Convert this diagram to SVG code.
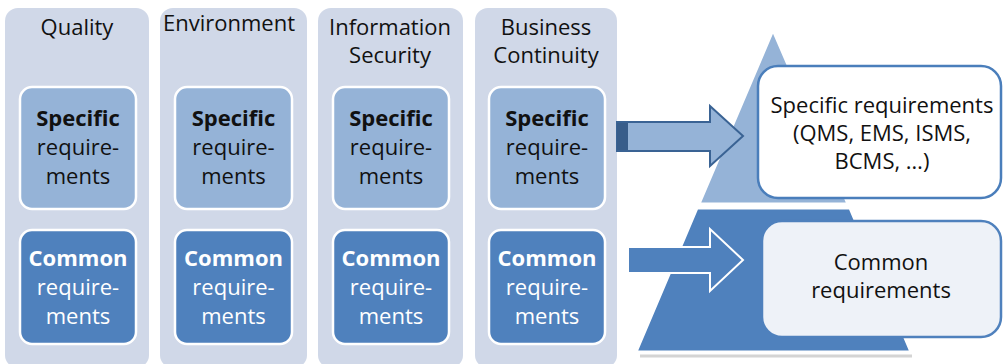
<svg xmlns="http://www.w3.org/2000/svg" width="1003" height="364" viewBox="0 0 1003 364">
<style>
.col{fill:#d0d8e8}
.spec{fill:#95b3d7;stroke:#fff;stroke-width:2.5}
.comm{fill:#4f81bd;stroke:#fff;stroke-width:2.5}
text{font-family:"Open Sans","Noto Sans","Liberation Sans",sans-serif;font-size:22px;text-anchor:middle}
.dk{fill:#111}
.wt{fill:#fff}
.b{font-weight:bold}
</style>
<rect width="1003" height="364" fill="#fff"/>
<g id="col-quality">
<rect class="col" x="5" y="8" width="144" height="360" rx="13"/>
<text class="dk" x="77" y="35">Quality</text>
<rect class="spec" x="20" y="87" width="116" height="122" rx="12"/>
<text class="dk b" x="78" y="126">Specific</text>
<text class="dk" x="78" y="155">require-</text>
<text class="dk" x="78" y="184">ments</text>
<rect class="comm" x="20" y="230" width="116" height="114" rx="12"/>
<text class="wt b" x="78" y="266">Common</text>
<text class="wt" x="78" y="295">require-</text>
<text class="wt" x="78" y="324">ments</text>
</g>
<g id="col-environment">
<rect class="col" x="160" y="8" width="147" height="360" rx="13"/>
<text class="dk" x="229" y="31">Environment</text>
<rect class="spec" x="175" y="87" width="117" height="122" rx="12"/>
<text class="dk b" x="233.5" y="126">Specific</text>
<text class="dk" x="233.5" y="155">require-</text>
<text class="dk" x="233.5" y="184">ments</text>
<rect class="comm" x="175" y="230" width="117" height="114" rx="12"/>
<text class="wt b" x="233.5" y="266">Common</text>
<text class="wt" x="233.5" y="295">require-</text>
<text class="wt" x="233.5" y="324">ments</text>
</g>
<g id="col-infosec">
<rect class="col" x="318" y="8" width="145" height="360" rx="13"/>
<text class="dk" x="390" y="35">Information</text>
<text class="dk" x="390" y="63">Security</text>
<rect class="spec" x="333" y="87" width="116" height="122" rx="12"/>
<text class="dk b" x="391" y="126">Specific</text>
<text class="dk" x="391" y="155">require-</text>
<text class="dk" x="391" y="184">ments</text>
<rect class="comm" x="333" y="230" width="116" height="114" rx="12"/>
<text class="wt b" x="391" y="266">Common</text>
<text class="wt" x="391" y="295">require-</text>
<text class="wt" x="391" y="324">ments</text>
</g>
<g id="col-business">
<rect class="col" x="475" y="8" width="142" height="360" rx="13"/>
<text class="dk" x="546" y="35">Business</text>
<text class="dk" x="546" y="63">Continuity</text>
<rect class="spec" x="489" y="87" width="116" height="122" rx="12"/>
<text class="dk b" x="547" y="126">Specific</text>
<text class="dk" x="547" y="155">require-</text>
<text class="dk" x="547" y="184">ments</text>
<rect class="comm" x="489" y="230" width="116" height="114" rx="12"/>
<text class="wt b" x="547" y="266">Common</text>
<text class="wt" x="547" y="295">require-</text>
<text class="wt" x="547" y="324">ments</text>
</g>
<g id="pyramid">
<line x1="640" y1="356" x2="912" y2="356" stroke="#d4d4d4" stroke-width="3"/>
<polygon points="773,30 699,204 848,204" fill="#95b3d7" stroke="#fff" stroke-width="3" stroke-linejoin="round"/>
<polygon points="697,208 850,208 911,352 636,352" fill="#4f81bd" stroke="#fff" stroke-width="3" stroke-linejoin="round"/>
</g>
<g id="box-specific">
<rect x="758" y="66" width="243" height="132" rx="20" fill="#fff" stroke="#4a7ebb" stroke-width="2.5"/>
<text class="dk" x="882" y="113">Specific requirements</text>
<text class="dk" x="882" y="141">(QMS, EMS, ISMS,</text>
<text class="dk" x="882" y="169">BCMS, …)</text>
</g>
<g id="box-common">
<rect x="762" y="221" width="239" height="116" rx="20" fill="#eef2f8" stroke="#4f81bd" stroke-width="2.5"/>
<text class="dk" x="881" y="270">Common</text>
<text class="dk" x="881" y="298">requirements</text>
</g>
<g id="connectors">
<path d="M617,122 H710 V106 L743,136 L710,166 V151 H617 Z" fill="#95b3d7" stroke="#3a6394" stroke-width="2" stroke-linejoin="miter"/>
<rect x="617" y="123" width="11" height="27" fill="#385d8a"/>
<path d="M628,247 H710 V229 L743,260 L710,291 V273 H628 Z" fill="#4f81bd" stroke="#fff" stroke-width="2"/>
</g>
</svg>
